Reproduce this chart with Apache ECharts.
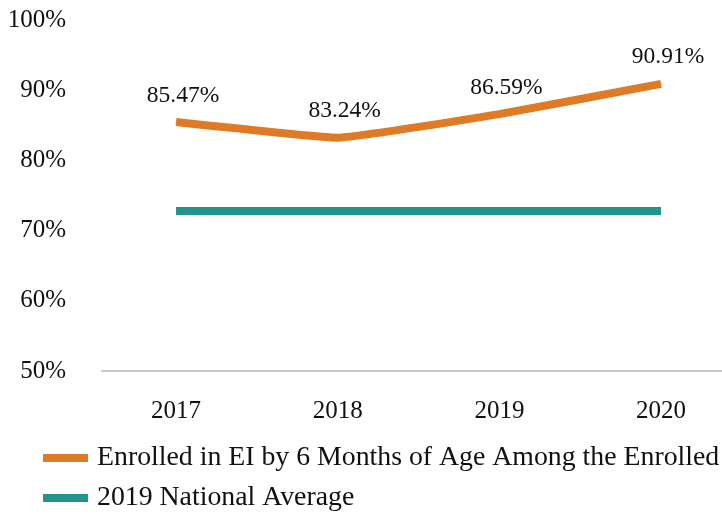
<!DOCTYPE html>
<html>
<head>
<meta charset="utf-8">
<script src="https://cdn.jsdelivr.net/npm/echarts@6/dist/echarts.min.js"></script>
<style>
  html, body { margin: 0; padding: 0; background: #fff; }
  #chart { width: 722px; height: 518px; }
</style>
</head>
<body>
<div id="chart"></div>
<script>
// chart data
const years = [2017, 2018, 2019, 2020];
const enrolled = [85.47, 83.24, 86.59, 90.91];
const nationalAvg = [72.8, 72.8, 72.8, 72.8];
const yTicks = [50, 60, 70, 80, 90, 100];

const serif = '"Liberation Serif", "Times New Roman", serif';
const chart = echarts.init(document.getElementById('chart'));

const option = {
  animation: false,
  textStyle: { fontFamily: serif, color: '#111' },
  grid: { left: 102, right: 0, top: 20, height: 351 },
  xAxis: {
    type: 'value',
    min: 2016.542,
    max: 2020.377,
    splitLine: { show: false },
    axisTick: { show: false },
    axisLine: { show: true, lineStyle: { color: '#c8c8c8', width: 2 } },
    axisLabel: {
      customValues: years,
      margin: 28,
      fontSize: 25,
      fontFamily: serif,
      color: '#111',
      formatter: v => String(v)
    }
  },
  yAxis: {
    type: 'value',
    min: 50,
    max: 100,
    interval: 10,
    splitLine: { show: false },
    axisLine: { show: false },
    axisTick: { show: false },
    axisLabel: {
      customValues: yTicks,
      margin: 36,
      fontSize: 25,
      fontFamily: serif,
      color: '#111',
      formatter: v => v + '%'
    }
  },
  legend: {
    orient: 'vertical',
    left: 43,
    top: 444,
    padding: 0,
    itemGap: 12,
    itemWidth: 45,
    itemHeight: 8,
    icon: 'rect',
    itemStyle: { opacity: 1 },
    textStyle: { fontFamily: serif, fontSize: 27.8, color: '#111', padding: [0, 0, 0, 4] },
    data: ['Enrolled in EI by 6 Months of Age Among the Enrolled', '2019 National Average']
  },
  series: [
    {
      name: 'Enrolled in EI by 6 Months of Age Among the Enrolled',
      type: 'line',
      smooth: 0.1,
      symbol: 'circle',
      symbolSize: 1,
      color: '#DF7A26',
      lineStyle: { width: 8, color: '#DF7A26', cap: 'butt' },
      data: years.map((y, i) => [y, enrolled[i]]),
      label: {
        show: true,
        position: 'top',
        distance: 14,
        fontSize: 23.5,
        fontFamily: serif,
        color: '#111',
        formatter: p => p.value[1].toFixed(2) + '%'
      },
      labelLayout: { hideOverlap: false, dx: 7, dy: 0 }
    },
    {
      name: '2019 National Average',
      type: 'line',
      symbol: 'none',
      color: '#22948B',
      lineStyle: { width: 8, color: '#22948B', cap: 'butt' },
      data: years.map((y, i) => [y, nationalAvg[i]])
    }
  ]
};

chart.setOption(option);
</script>
</body>
</html>
